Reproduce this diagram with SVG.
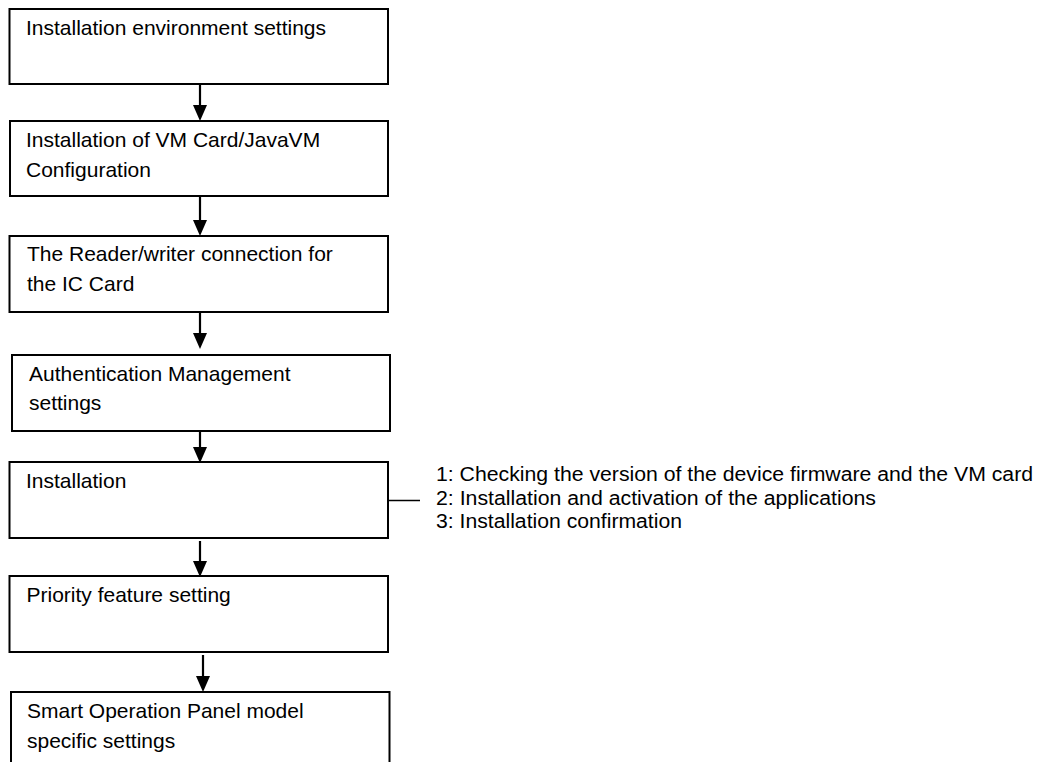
<svg xmlns="http://www.w3.org/2000/svg" width="1038" height="762" viewBox="0 0 1038 762">
  <style>
    .box { fill: #ffffff; stroke: #000000; stroke-width: 2; }
    .lbl { font-family: "Liberation Sans", Arial, Helvetica, sans-serif; font-size: 21px; fill: #000000; }
    .note { font-family: "Liberation Sans", Arial, Helvetica, sans-serif; font-size: 20px; fill: #000000; }
    .arrow { fill: none; stroke: #000000; stroke-width: 2.2; marker-end: url(#head); }
    .link { fill: none; stroke: #000000; stroke-width: 1.5; }
  </style>
  <defs>
    <marker id="head" viewBox="0 0 16 14" refX="12" refY="7" markerWidth="16" markerHeight="14" markerUnits="userSpaceOnUse" orient="auto">
      <path d="M0,0 L16,7 L0,14 Z" fill="#000000"/>
    </marker>
  </defs>
  <rect width="1038" height="762" fill="#ffffff"/>

  <g id="connectors">
    <path class="arrow" d="M200,84 V117"/>
    <path class="arrow" d="M200,196 V232"/>
    <path class="arrow" d="M200,312 V345"/>
    <path class="arrow" d="M200,431 V459"/>
    <path class="arrow" d="M200,541 V573"/>
    <path class="arrow" d="M203,655 V688"/>
    <path class="link" d="M388,500.5 H420"/>
  </g>

  <g id="node1">
    <rect class="box" x="9.5" y="9" width="378.5" height="75"/>
    <text class="lbl" x="26" y="35">Installation environment settings</text>
  </g>
  <g id="node2">
    <rect class="box" x="10" y="121" width="378" height="75"/>
    <text class="lbl" x="26" y="147">Installation of VM Card/JavaVM</text>
    <text class="lbl" x="26" y="177">Configuration</text>
  </g>
  <g id="node3">
    <rect class="box" x="9.5" y="236" width="378.5" height="76"/>
    <text class="lbl" x="27" y="261">The Reader/writer connection for</text>
    <text class="lbl" x="27" y="291">the IC Card</text>
  </g>
  <g id="node4">
    <rect class="box" x="12" y="355" width="378" height="76"/>
    <text class="lbl" x="29" y="381">Authentication Management</text>
    <text class="lbl" x="29" y="410">settings</text>
  </g>
  <g id="node5">
    <rect class="box" x="9.5" y="462" width="378.5" height="76"/>
    <text class="lbl" x="26" y="488">Installation</text>
  </g>
  <g id="node6">
    <rect class="box" x="9.5" y="576" width="378.5" height="76"/>
    <text class="lbl" x="26.5" y="602">Priority feature setting</text>
  </g>
  <g id="node7">
    <rect class="box" x="11" y="692" width="378.5" height="80"/>
    <text class="lbl" x="27" y="718">Smart Operation Panel model</text>
    <text class="lbl" x="27" y="748">specific settings</text>
  </g>

  <g id="install-steps">
    <text class="note" x="436" y="481" textLength="597" lengthAdjust="spacingAndGlyphs">1: Checking the version of the device firmware and the VM card</text>
    <text class="note" x="436" y="504.5" textLength="440" lengthAdjust="spacingAndGlyphs">2: Installation and activation of the applications</text>
    <text class="note" x="436" y="528" textLength="246" lengthAdjust="spacingAndGlyphs">3: Installation confirmation</text>
  </g>
</svg>
